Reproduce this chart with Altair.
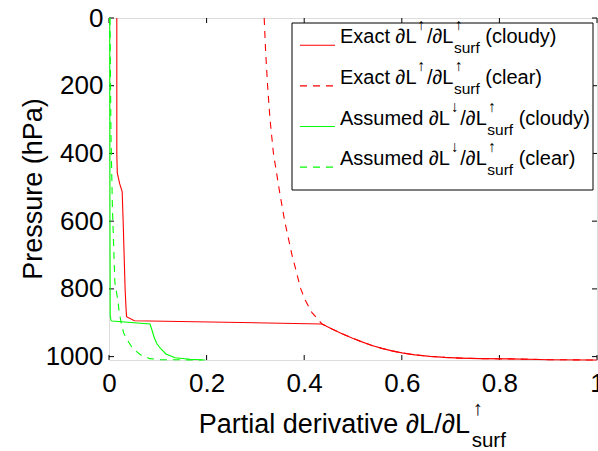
import altair as alt
import pandas as pd

# ---- profile data: partial derivative vs pressure (hPa) ----
# shared near-surface part of the exact profiles (below cloud base)
P_SURFACE_LAYER = [903.5, 918.6, 932.3, 945.0, 956.5, 966.9, 975.7, 983.1, 989.0, 994.8, 999.2, 1002.3,
                   1004.4, 1005.9, 1006.8, 1009.1, 1010]
X_SURFACE_LAYER = [0.4365, 0.4570, 0.4775, 0.4980, 0.5184, 0.5389, 0.5594, 0.5799, 0.6004, 0.6270, 0.6578,
                   0.6885, 0.7193, 0.7602, 0.8217, 0.9037, 1.0]

P_EXACT_CLOUDY = [0, 100, 200, 300, 400, 458, 490, 513, 600, 700, 800, 860, 882, 894]
X_EXACT_CLOUDY = [0.016, 0.016, 0.016, 0.016, 0.016, 0.017, 0.022, 0.027, 0.029, 0.031, 0.033, 0.035, 0.036, 0.052]

P_EXACT_CLEAR = [0, 100, 200, 300, 400, 517, 600, 700, 800, 833, 870]
X_EXACT_CLEAR = [0.318, 0.321, 0.325, 0.330, 0.337, 0.350, 0.360, 0.375, 0.393, 0.402, 0.416]

P_ASSUMED_CLOUDY = [0, 300, 600, 880, 892, 895, 903.7, 921.4, 942, 962.7, 977.5, 992.3, 1003.2, 1008, 1010]
X_ASSUMED_CLOUDY = [0.0015, 0.0017, 0.002, 0.0025, 0.004, 0.006, 0.084, 0.0881, 0.0922, 0.0984, 0.1066,
                    0.1168, 0.1352, 0.166, 0.197]

P_ASSUMED_CLEAR = [0, 340, 560, 780, 833, 870, 900, 930, 950, 970, 981, 993, 1006, 1009, 1010]
X_ASSUMED_CLEAR = [0.002, 0.004, 0.007, 0.012, 0.018, 0.021, 0.025, 0.030, 0.037, 0.046, 0.053, 0.063,
                   0.083, 0.105, 0.19]

X_TICKS = [0, 0.2, 0.4, 0.6, 0.8, 1.0]
P_TICKS = [0, 200, 400, 600, 800, 1000]

RED = "#ff0000"
GREEN = "#00ff00"
DASH = [7, 6]
FONT = "Liberation Sans"

W, H = 488, 342

xscale = alt.Scale(domain=[0, 1], nice=False, zero=False)
yscale = alt.Scale(domain=[0, 1010], reverse=True, nice=False, zero=False)
xaxis = alt.Axis(values=X_TICKS, format="~g", title=None, ticks=False, domain=False, grid=False,
                 labelFont=FONT, labelFontSize=26, labelColor="black", labelPadding=10,
                 labelFlush=False, labelOverlap=False)
yaxis = alt.Axis(values=P_TICKS, format="d", title=None, ticks=False, domain=False, grid=False,
                 labelFont=FONT, labelFontSize=26, labelColor="black", labelPadding=6,
                 labelFlush=False, labelOverlap=False)

ONE = alt.Data(values=[{"k": 0}])


def profile(xs, ps, color, dash=None):
    df = pd.DataFrame({"x": xs, "p": ps, "i": list(range(len(xs)))})
    kw = dict(color=color, strokeWidth=1.1)
    if dash:
        kw["strokeDash"] = dash
    return alt.Chart(df).mark_line(**kw).encode(
        x=alt.X("x:Q", scale=xscale, axis=xaxis),
        y=alt.Y("p:Q", scale=yscale, axis=yaxis),
        order="i:Q",
    )


# inward box ticks on all four sides
xt = pd.DataFrame({"x": X_TICKS})
pt = pd.DataFrame({"p": P_TICKS})
tick_style = dict(color="black", strokeWidth=1)
ticks = [
    alt.Chart(xt).mark_rule(**tick_style).encode(
        x=alt.X("x:Q", scale=xscale, axis=xaxis), y=alt.value(H), y2=alt.value(H - 5)),
    alt.Chart(xt).mark_rule(**tick_style).encode(
        x=alt.X("x:Q", scale=xscale, axis=xaxis), y=alt.value(0), y2=alt.value(5)),
    alt.Chart(pt).mark_rule(**tick_style).encode(
        y=alt.Y("p:Q", scale=yscale, axis=yaxis), x=alt.value(0), x2=alt.value(5)),
    alt.Chart(pt).mark_rule(**tick_style).encode(
        y=alt.Y("p:Q", scale=yscale, axis=yaxis), x=alt.value(W), x2=alt.value(W - 5)),
]

lines = [
    profile(X_EXACT_CLOUDY + X_SURFACE_LAYER, P_EXACT_CLOUDY + P_SURFACE_LAYER, RED),
    profile(X_EXACT_CLEAR + X_SURFACE_LAYER, P_EXACT_CLEAR + P_SURFACE_LAYER, RED, DASH),
    profile(X_ASSUMED_CLOUDY, P_ASSUMED_CLOUDY, GREEN),
    profile(X_ASSUMED_CLEAR, P_ASSUMED_CLEAR, GREEN, DASH),
]

# Helvetica/Arial advance widths (per 1000 em) for chaining rich-text pieces
ADV = {' ': 278, '(': 333, ')': 333, '/': 278, 'E': 667, 'x': 500, 'a': 556, 'c': 500, 't': 278,
       'L': 556, 'A': 667, 's': 500, 'u': 556, 'm': 833, 'e': 556, 'd': 556, 'l': 222, 'o': 556,
       'y': 500, 'r': 333, 'f': 278, '\u2202': 494, '\u2191': 600, '\u2193': 600}


def width(s, size):
    return sum(ADV.get(c, 556) for c in s) * size / 1000.0


def txt(s, x, y, size, align="left", angle=None):
    kw = dict(text=s, font=FONT, fontSize=size, align=align, baseline="alphabetic", color="black")
    if angle is not None:
        kw["angle"] = angle
    return alt.Chart(ONE).mark_text(**kw).encode(x=alt.value(x), y=alt.value(y))


# ---- legend ----
legend = [alt.Chart(ONE).mark_rect(fill="white", stroke="black", strokeWidth=1).encode(
    x=alt.value(183), x2=alt.value(484), y=alt.value(5), y2=alt.value(172))]

rows = [
    ("Exact \u2202L", "\u2191", "(cloudy)", RED, None),
    ("Exact \u2202L", "\u2191", "(clear)", RED, DASH),
    ("Assumed \u2202L", "\u2193", "(cloudy)", GREEN, None),
    ("Assumed \u2202L", "\u2193", "(clear)", GREEN, DASH),
]
FS, SS = 20, 15.5
for k, (head, arrow, tail, color, dash) in enumerate(rows):
    base = 25.3 + 40.6 * k
    kw = dict(color=color, strokeWidth=1.1)
    if dash:
        kw["strokeDash"] = dash
    legend.append(alt.Chart(ONE).mark_rule(**kw).encode(
        x=alt.value(191), x2=alt.value(226), y=alt.value(base + 2)))
    x0 = 231
    legend.append(txt(head, x0, base, FS))
    x0 += width(head, FS) + 1
    legend.append(txt(arrow, x0, base - 13, SS))
    x0 += width(arrow, SS)
    legend.append(txt("/\u2202L", x0, base, FS))
    x0 += width("/\u2202L", FS) + 0.5
    legend.append(txt("\u2191", x0 + 1, base - 13, SS))
    legend.append(txt("surf", x0, base + 10, SS))
    x0 += width("surf", SS) + width(" ", FS)
    legend.append(txt(tail, x0, base, FS))

# ---- axis titles ----
titles = [
    txt("Pressure (hPa)", -67, H / 2, 27, align="center", angle=270),
    txt("Partial derivative \u2202L/\u2202L", 361, 415.3, 27, align="right"),
    txt("\u2191", 363.5, 397, 20.5),
    txt("surf", 362.7, 429, 20.5),
]

chart = alt.layer(*ticks, *lines, *legend, *titles).properties(
    width=W, height=H,
    autosize=alt.AutoSizeParams(type="none"),
    padding={"left": 109, "top": 18, "right": 1, "bottom": 91},
).configure_view(stroke="black", strokeWidth=1.5).configure(background="white")

chart.save("out.html", embed_options={"renderer": "svg", "actions": False})
